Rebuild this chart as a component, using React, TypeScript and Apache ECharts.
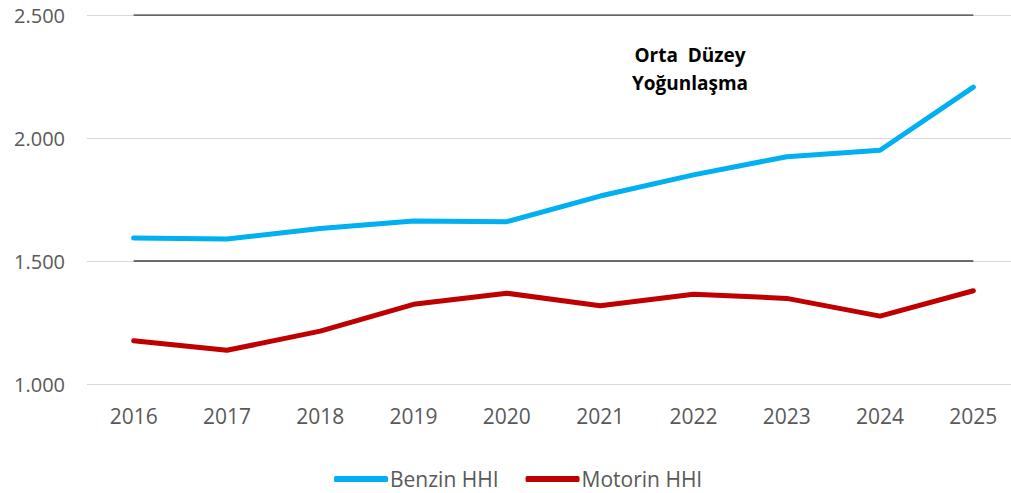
import React, { useEffect, useRef } from "react";
import * as echarts from "echarts";

const years = ["2016", "2017", "2018", "2019", "2020", "2021", "2022", "2023", "2024", "2025"];
const benzinHHI = [1593, 1589, 1632, 1663, 1660, 1764, 1850, 1924, 1950, 2207];
const motorinHHI = [1176, 1137, 1215, 1324, 1369, 1318, 1365, 1348, 1276, 1379];
const upperThreshold = [2500, 2500, 2500, 2500, 2500, 2500, 2500, 2500, 2500, 2500];
const lowerThreshold = [1500, 1500, 1500, 1500, 1500, 1500, 1500, 1500, 1500, 1500];
const annotationText = "Orta  Düzey\nYoğunlaşma";

const FONT = "'Open Sans', sans-serif";

export default function App() {
  const ref = useRef<HTMLDivElement>(null);
  useEffect(() => {
    if (!ref.current) return;
    const chart = echarts.init(ref.current, null, { renderer: "svg" });
    chart.setOption({
      animation: false,
      grid: {
        left: 87,
        right: -9,
        top: 15,
        bottom: 109,
        containLabel: false,
        outerBoundsMode: "none",
      },
      legend: {
        data: ["Benzin HHI", "Motorin HHI"],
        left: 329,
        top: 462,
        icon: "roundRect",
        itemWidth: 54,
        itemHeight: 6,
        itemGap: 27,
        textStyle: {
          fontFamily: FONT,
          fontSize: 21,
          lineHeight: 24,
          color: "#595959",
          padding: [0, 0, 0, -3],
        },
      },
      xAxis: {
        type: "category",
        data: years,
        boundaryGap: true,
        axisLine: { show: false },
        axisTick: { show: false },
        axisLabel: {
          fontFamily: FONT,
          fontSize: 21,
          color: "#595959",
          margin: 21,
        },
      },
      yAxis: {
        type: "value",
        min: 1000,
        max: 2500,
        interval: 500,
        axisLine: { show: false },
        axisTick: { show: false },
        splitLine: { lineStyle: { color: "#d9d9d9", width: 1 } },
        axisLabel: {
          fontFamily: FONT,
          fontSize: 20,
          color: "#595959",
          margin: 22,
          formatter: (v: number) => v.toLocaleString("de-DE"),
        },
      },
      graphic: [
        {
          type: "text",
          x: 690,
          y: 69,
          style: {
            text: annotationText,
            fontFamily: FONT,
            fontSize: 19,
            fontWeight: "bold",
            fill: "#000000",
            align: "center",
            verticalAlign: "middle",
            lineHeight: 28,
          },
        },
      ],
      series: [
        {
          name: "Üst Sınır",
          type: "line",
          data: upperThreshold,
          symbol: "none",
          lineStyle: { color: "#404040", width: 1.5 },
          z: 1,
        },
        {
          name: "Alt Sınır",
          type: "line",
          data: lowerThreshold,
          symbol: "none",
          lineStyle: { color: "#404040", width: 1.5 },
          z: 1,
        },
        {
          name: "Benzin HHI",
          type: "line",
          data: benzinHHI,
          symbol: "none",
          itemStyle: { color: "#00B0F0" },
          lineStyle: { color: "#00B0F0", width: 5, cap: "round", join: "round" },
          z: 3,
        },
        {
          name: "Motorin HHI",
          type: "line",
          data: motorinHHI,
          symbol: "none",
          itemStyle: { color: "#C00000" },
          lineStyle: { color: "#C00000", width: 5, cap: "round", join: "round" },
          z: 3,
        },
      ],
    });
    return () => chart.dispose();
  }, []);
  return (
    <div
      ref={ref}
      style={{ position: "absolute", left: 0, top: 0, width: 1011, height: 493, background: "#ffffff" }}
    />
  );
}
